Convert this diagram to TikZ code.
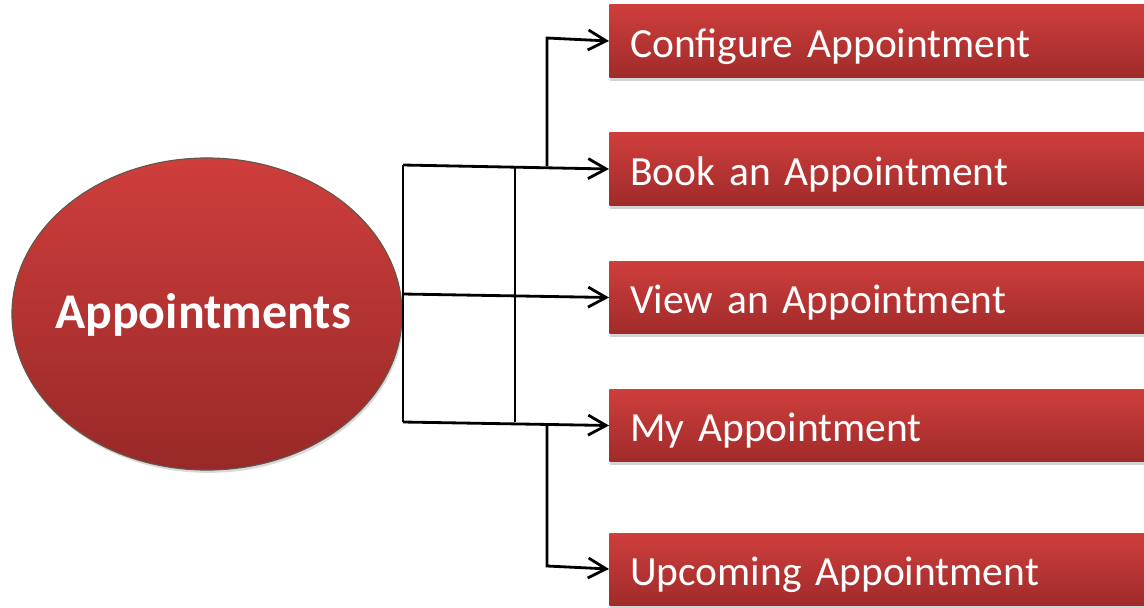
\documentclass[tikz,border=0pt]{standalone}
\usepackage{fontspec}
\setmainfont[WordSpace=0.75]{Carlito}
\usepackage{tikz}
\usepackage{xcolor}
\usetikzlibrary{shapes, positioning, arrows.meta, shadows}

\definecolor{boxtop}{HTML}{CE3E3C}
\definecolor{boxbot}{HTML}{A02B2A}
\definecolor{rimcol}{HTML}{62584A}

\tikzset{
    item/.style={rectangle, anchor=west, top color=boxtop, bottom color=boxbot,
        minimum height=1.8cm, text width=13cm, inner xsep=0.525cm, align=left,
        text height=1.0cm, text depth=0.2cm, text=white, font=\fontsize{29.5}{29.5}\selectfont,
        drop shadow={opacity=0.35, shadow xshift=0.5pt, shadow yshift=-2.5pt}},
    link/.style={line width=2pt, -{Straight Barb[length=0.45cm, width=0.5cm, line width=2pt]}},
    bar/.style={line width=2pt}
}

\begin{document}
\begin{tikzpicture}[x=0.025cm, y=-0.025cm]
        \clip (0,0) rectangle (1144,607);
        \useasboundingbox (0,0) rectangle (1144,607);

        \node[ellipse, draw=rimcol, line width=0.8pt, top color=boxtop, bottom color=boxbot!95!black,
            minimum width=9.75cm, minimum height=7.8cm, inner sep=0pt,
            drop shadow={opacity=0.3, shadow xshift=1pt, shadow yshift=-2pt},
            label={[text=white, font=\bfseries\fontsize{35.5}{35.5}\selectfont, text height=0.9cm, text depth=0.2cm, xshift=-0.1cm]center:Appointments}]
            (appt) at (207,314) {};

        \node[item] (cfg) at (609,41) {Configure Appointment};
        \node[item] (book) at (609,169) {Book an Appointment};
        \node[item] (view) at (609,297.5) {View an Appointment};
        \node[item] (mine) at (609,425.5) {My Appointment};
        \node[item] (upc) at (609,569) {Upcoming Appointment};

        \coordinate (brtop) at (403,165);
        \coordinate (brmid) at (403,294);
        \coordinate (brbot) at (403,422);
        \coordinate (midtop) at (515,166);
        \coordinate (midbot) at (515,422);
        \coordinate (upbase) at (547,166);
        \coordinate (upend) at (547,38);
        \coordinate (dnbase) at (547,423);
        \coordinate (dnend) at (547,566);

        \draw[bar] (brtop) -- (brbot)
            (midtop) -- (midbot);
        \draw[link] (brtop) -- (book.west);
        \draw[link] (brmid) -- (view.west);
        \draw[link] (brbot) -- (mine.west);
        \draw[link] (upbase) -- (upend) -- (cfg.west);
        \draw[link] (dnbase) -- (dnend) -- (upc.west);
    \end{tikzpicture}
\end{document}
